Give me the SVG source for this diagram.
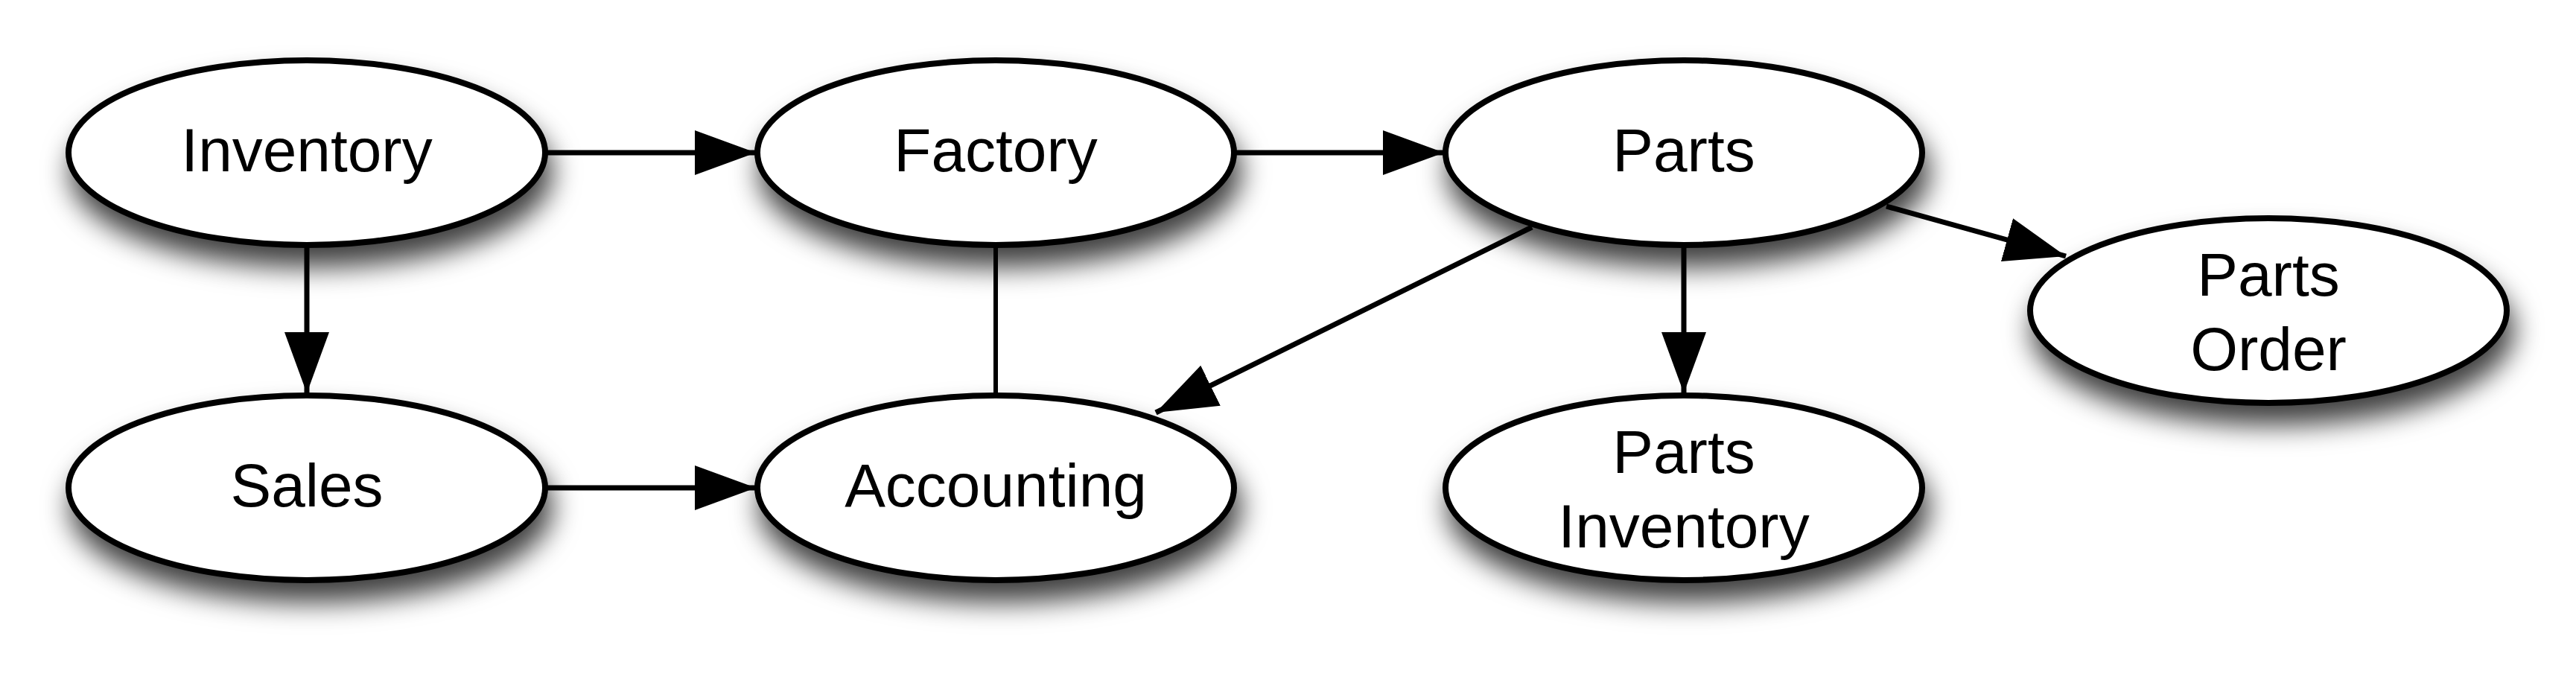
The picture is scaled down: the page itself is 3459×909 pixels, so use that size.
<svg xmlns="http://www.w3.org/2000/svg" width="3459" height="909" viewBox="0 0 3459 909">
<defs>
<filter id="sh" x="-20%" y="-40%" width="140%" height="200%">
<feDropShadow dx="6" dy="26" stdDeviation="18" flood-color="#000" flood-opacity="0.75"/>
</filter>
<marker id="arr" markerUnits="userSpaceOnUse" markerWidth="90" markerHeight="64" refX="82" refY="30" orient="auto">
<path d="M0,0 L82,30 L0,60 Z" fill="#000"/>
</marker>
</defs>
<style>
.n ellipse{fill:#fff;stroke:#000;stroke-width:8;filter:url(#sh)}
.n text{font-family:"Liberation Sans",Arial,sans-serif;font-size:82px;fill:#000;text-anchor:middle}
.e line{stroke:#000;stroke-width:7;fill:none}
.e .a{marker-end:url(#arr)}
</style>
<g id="inventory" class="n"><ellipse cx="412" cy="205" rx="320" ry="124"/><text x="412" y="230">Inventory</text></g>
<g id="factory" class="n"><ellipse cx="1337" cy="205" rx="320" ry="124"/><text x="1337" y="230">Factory</text></g>
<g id="parts" class="n"><ellipse cx="2261" cy="205" rx="320" ry="124"/><text x="2261" y="230">Parts</text></g>
<g id="parts-order" class="n"><ellipse cx="3046" cy="417" rx="320" ry="124"/><text x="3046" y="397">Parts</text><text x="3046" y="497">Order</text></g>
<g id="sales" class="n"><ellipse cx="412" cy="655" rx="320" ry="124"/><text x="412" y="680">Sales</text></g>
<g id="accounting" class="n"><ellipse cx="1337" cy="655" rx="320" ry="124"/><text x="1337" y="680">Accounting</text></g>
<g id="parts-inventory" class="n"><ellipse cx="2261" cy="655" rx="320" ry="124"/><text x="2261" y="635">Parts</text><text x="2261" y="735">Inventory</text></g>
<g id="connectors" class="e">
<line class="a" x1="734" y1="205" x2="1015" y2="205"/>
<line class="a" x1="1659" y1="205" x2="1939" y2="205"/>
<line class="a" x1="412" y1="331" x2="412" y2="528"/>
<line class="a" x1="734" y1="655" x2="1015" y2="655"/>
<line x1="1337" y1="331" x2="1337" y2="529" style="stroke-width:6"/>
<line class="a" x1="2057" y1="305" x2="1552" y2="554"/>
<line class="a" x1="2261" y1="331" x2="2261" y2="528"/>
<line class="a" x1="2533" y1="277" x2="2774" y2="344"/>
</g>
</svg>
